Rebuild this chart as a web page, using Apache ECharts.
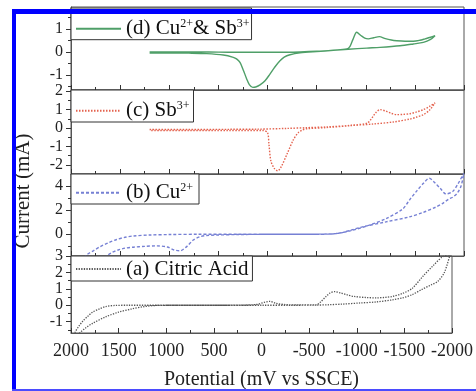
<!DOCTYPE html>
<html>
<head>
<meta charset="utf-8">
<script src="https://cdn.jsdelivr.net/npm/echarts@6/dist/echarts.min.js"></script>
<style>
  html, body { margin: 0; padding: 0; background: #fff; }
  #chart { width: 476px; height: 391px; }
</style>
</head>
<body>
<div id="chart"></div>
<script>
// Cyclic voltammograms, potential in mV vs SSCE, current in mA.

// (d) Cu2+ & Sb3+
const dPotential = [1200, 1000, 800, 600, 400, 200, 0, -200, -331, -500, -670, -806, -840, -870, -908, -950, -990, -1026, -1080, -1138, -1200, -1260, -1315, -1400, -1484, -1550, -1603, -1660, -1705,
  -1660, -1586, -1484, -1349, -1145, -1010, -822, -670, -500, -331, -229, -170, -127, -75, -25, 25, 76, 120, 150, 185, 212, 245, 280, 315, 348, 450, 619, 800, 1000, 1200];
const dCurrent = [0.00, 0.00, 0.00, 0.00, -0.01, -0.01, -0.01, -0.01, 0.00, 0.03, 0.08, 0.13, 0.25, 0.55, 0.86, 0.72, 0.60, 0.57, 0.62, 0.67, 0.58, 0.52, 0.49, 0.47, 0.47, 0.51, 0.57, 0.64, 0.71,
  0.55, 0.42, 0.35, 0.27, 0.20, 0.17, 0.12, 0.07, 0.02, -0.04, -0.12, -0.22, -0.38, -0.65, -0.96, -1.25, -1.43, -1.52, -1.54, -1.42, -1.17, -0.80, -0.45, -0.30, -0.23, -0.13, -0.07, -0.05, -0.04, -0.04];

// (c) Sb3+
const cPotential = [1200, 800, 400, 100, -200, -400, -603, -840, -1010, -1050, -1100, -1145, -1200, -1260, -1315, -1380, -1450, -1520, -1586, -1650, -1705,
  -1650, -1586, -1520, -1450, -1280, -1077, -840, -603, -400, -358, -314, -263, -200, -140, -104, -70, -35, -15, 0, 50, 400, 800, 1200];
const cCurrent = [-0.08, -0.08, -0.07, -0.06, -0.02, 0.02, 0.06, 0.14, 0.26, 0.45, 0.82, 1.00, 0.93, 0.80, 0.73, 0.74, 0.78, 0.88, 1.00, 1.18, 1.37,
  0.98, 0.73, 0.60, 0.49, 0.33, 0.22, 0.13, 0.03, -0.04, -0.10, -0.25, -0.64, -1.40, -2.10, -2.33, -2.20, -1.80, -0.90, -0.25, -0.13, -0.13, -0.13, -0.13];

// (b) Cu2+
const bPotential = [2000, 1900, 1840, 1770, 1705, 1620, 1535, 1450, 1366, 1196, 1000, 700, 300, 0, -300, -500, -697, -850, -1036, -1206, -1376, -1450, -1520, -1590, -1647, -1700, -1760, -1817, -1885, -1940, -2000,
  -1970, -1930, -1880, -1850, -1780, -1715, -1580, -1443, -1206, -968, -850, -750, -650, -500, 0, 300, 517, 620, 687, 755, 820, 891, 950, 1020, 1128, 1250, 1366, 1450, 1519, 1580, 1637, 1700, 1750];
const bCurrent = [-3.2, -2.3, -1.7, -1.35, -1.03, -0.70, -0.43, -0.25, -0.14, -0.06, -0.02, 0.00, 0.00, 0.00, 0.00, 0.01, 0.06, 0.30, 0.76, 1.30, 2.10, 2.90, 3.60, 4.25, 4.65, 4.30, 3.80, 3.35, 3.55, 4.20, 5.10,
  4.00, 3.40, 3.05, 2.95, 2.55, 2.26, 1.80, 1.44, 1.03, 0.62, 0.35, 0.12, 0.03, 0.00, 0.00, -0.02, -0.06, -0.10, -0.20, -0.47, -1.00, -1.37, -1.30, -1.05, -0.96, -1.00, -1.07, -1.15, -1.30, -1.50, -1.80, -2.30, -2.80];

// (a) Citric Acid
const aPotential = [2000, 1959, 1920, 1875, 1820, 1773, 1700, 1637, 1535, 1400, 1000, 500, 200, 50, -30, -87, -150, -250, -400, -578, -620, -680, -720, -765, -830, -900, -968, -1100, -1206, -1300, -1376, -1480, -1580, -1700, -1800, -1900, -1980,
  -1920, -1850, -1783, -1680, -1580, -1480, -1376, -1200, -1036, -850, -700, -578, -300, 0, 500, 900, 1094, 1230, 1366, 1501, 1637, 1773, 1850, 1908, 2000];
const aCurrent = [-2.6, -1.68, -1.30, -0.96, -0.65, -0.42, -0.22, -0.08, -0.01, 0.00, 0.00, 0.00, 0.01, 0.05, 0.18, 0.24, 0.12, 0.04, 0.02, 0.03, 0.20, 0.55, 0.75, 0.83, 0.75, 0.63, 0.54, 0.47, 0.45, 0.48, 0.54, 0.72, 1.02, 1.80, 2.40, 2.95, 3.10,
  2.00, 1.45, 1.25, 0.95, 0.64, 0.45, 0.33, 0.20, 0.14, 0.07, 0.03, 0.01, 0.00, 0.00, 0.00, 0.00, -0.01, -0.08, -0.23, -0.42, -0.71, -1.10, -1.40, -1.68, -2.30];

// Axis ticks
const xTicks = [2000, 1500, 1000, 500, 0, -500, -1000, -1500, -2000];
const yTicksD = [-1, 0, 1];
const yTicksC = [-2, -1, 0, 1, 2];
const yTicksB = [0, 2, 4];
const yTicksA = [-1, 0, 1, 2, 3];
const yMinorD = [-1.5, -0.5, 0.5, 1.5];
const yMinorC = [-1.5, -0.5, 0.5, 1.5];
const yMinorB = [-1, 1, 3];
const yMinorA = [-1.5, -0.5, 0.5, 1.5, 2.5];

const seriesNames = ['(d) Cu2+ & Sb3+', '(c) Sb3+', '(b) Cu2+', '(a) Citric Acid'];
const legendRich = {
  '(d) Cu2+ & Sb3+': '(d) Cu{sup|2+}& Sb{sup|3+}',
  '(c) Sb3+': '(c) Sb{sup|3+}',
  '(b) Cu2+': '(b) Cu{sup|2+}',
  '(a) Citric Acid': '(a) Citric Acid'
};

const FONT = '"Liberation Serif", "Times New Roman", serif';
const AXIS_COLOR = '#555';

const zip = (xs, ys) => xs.map((x, i) => [x, ys[i]]);

// layout of the four stacked panels, top to bottom: d, c, b, a
const panels = [
  { top: 7,   height: 83, min: -1.652, max: 1.957, ticks: yTicksD, minor: yMinorD, legendTop: 8,   pad: [9.7, 2, 0, 4] },
  { top: 90,  height: 84, min: -2.50,  max: 2.07,  ticks: yTicksC, minor: yMinorC, legendTop: 90,  pad: [9.7, 4, 0.3, 4] },
  { top: 174, height: 82, min: -1.80,  max: 5.00,  ticks: yTicksB, minor: yMinorB, legendTop: 174, pad: [7.7, 6, 0.3, 4] },
  { top: 256, height: 81, min: -1.69,  max: 3.00,  ticks: yTicksA, minor: yMinorA, legendTop: 256, pad: [2, 4, 1, 4] }
];

const lineStyles = [
  { color: '#4f9f68', width: 1.4, type: 'solid' },
  { color: '#e4634f', width: 1.4, type: [1.5, 1.5] },
  { color: '#7680d4', width: 1.4, type: [3, 2] },
  { color: '#555555', width: 1.3, type: [1.3, 1.3] }
];
const dataSets = [zip(dPotential, dCurrent), zip(cPotential, cCurrent), zip(bPotential, bCurrent), zip(aPotential, aCurrent)];

const grids = [], xAxes = [], yAxes = [], series = [], legends = [];
panels.forEach((p, i) => {
  grids.push({ left: 71, right: 12, top: p.top, height: p.height, show: true, borderColor: AXIS_COLOR, borderWidth: 1, backgroundColor: 'transparent' });
  const last = i === panels.length - 1;
  xAxes.push({
    gridIndex: i, type: 'value', min: -2000, max: 2000, interval: 500, inverse: true,
    axisLine: { show: true, onZero: false, lineStyle: { color: AXIS_COLOR, width: 1 } },
    axisTick: { show: true, inside: true, length: 5, lineStyle: { color: '#333' } },
    minorTick: { show: true, splitNumber: 2, length: 3, lineStyle: { color: '#333' } },
    splitLine: { show: false },
    axisLabel: { show: last, color: '#222', fontFamily: FONT, fontSize: 18, margin: 9,
      customValues: xTicks, formatter: v => String(v) },
    name: last ? 'Potential (mV vs SSCE)' : '',
    nameLocation: 'middle', nameGap: 37,
    nameTextStyle: { fontFamily: FONT, fontSize: 20, color: '#222' }
  });
  yAxes.push({
    gridIndex: i, type: 'value', min: p.min, max: p.max,
    axisLine: { show: true, onZero: false, lineStyle: { color: AXIS_COLOR, width: 1 } },
    axisTick: { show: true, inside: false, length: 5, lineStyle: { color: '#333' }, customValues: p.ticks },
    axisLabel: { show: true, color: '#222', fontFamily: FONT, fontSize: 16, margin: 8,
      hideOverlap: false, customValues: p.ticks, formatter: v => String(v) },
    splitLine: { show: false }
  });
  // minor ticks on the current axis
  yAxes.push({
    gridIndex: i, type: 'value', min: p.min, max: p.max, position: 'left',
    axisLine: { show: false, onZero: false },
    axisTick: { show: true, inside: false, length: 3, lineStyle: { color: '#333' }, customValues: p.minor },
    axisLabel: { show: false },
    splitLine: { show: false }
  });
  series.push({
    name: seriesNames[i], type: 'line', xAxisIndex: i, yAxisIndex: i * 2,
    data: dataSets[i], symbol: 'none', smooth: 0.3, clip: true,
    lineStyle: lineStyles[i], itemStyle: { color: lineStyles[i].color },
    animation: false
  });
  legends.push({
    data: [seriesNames[i]], left: 71, top: p.legendTop, orient: 'horizontal',
    padding: p.pad, itemWidth: 45, itemHeight: 14, itemGap: 0,
    borderColor: '#333', borderWidth: 1, backgroundColor: '#fff',
    selectedMode: false,
    itemStyle: { opacity: 0 },
    formatter: name => legendRich[name],
    textStyle: {
      fontFamily: FONT, fontSize: 21, color: '#111', lineHeight: 22,
      rich: {
        sup: { fontFamily: FONT, fontSize: 12, lineHeight: 6, verticalAlign: 'top', color: '#111' }
      }
    }
  });
});

const chart = echarts.init(document.getElementById('chart'), null, { renderer: 'canvas' });
chart.setOption({
  backgroundColor: '#fff',
  animation: false,
  grid: grids,
  xAxis: xAxes,
  yAxis: yAxes,
  series: series,
  legend: legends,
  graphic: [
    { type: 'text', x: 23, y: 191, rotation: Math.PI / 2, z: 50,
      style: { text: 'Current (mA)', x: 0, y: 0, align: 'center', verticalAlign: 'middle',
        font: '21px ' + FONT, fill: '#222' } },
    { type: 'rect', z: 100, shape: { x: 12, y: 9, width: 464, height: 5 }, style: { fill: '#0000ff' } },
    { type: 'rect', z: 100, shape: { x: 12, y: 9, width: 4, height: 382 }, style: { fill: '#0000ff' } },
    { type: 'rect', z: 100, shape: { x: 12, y: 389, width: 464, height: 2 }, style: { fill: '#4b4bff' } }
  ]
});
</script>
</body>
</html>
